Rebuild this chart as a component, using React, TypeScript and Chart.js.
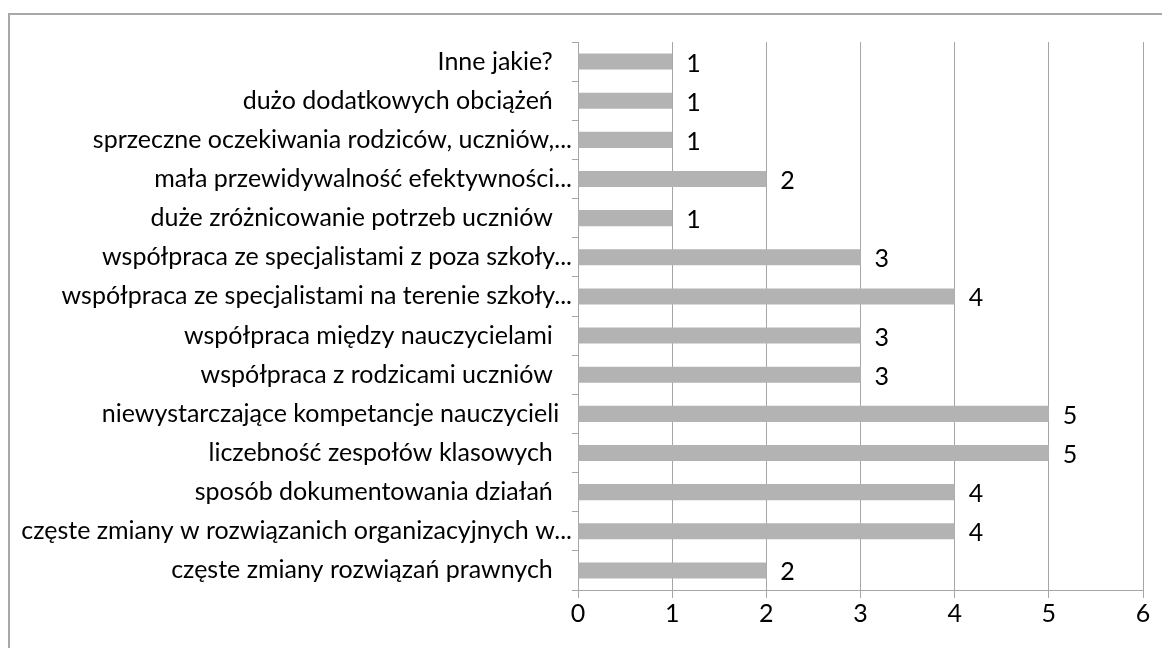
import React, { useEffect, useRef } from "react";
import { Chart, registerables } from "chart.js";

Chart.register(...registerables);

const categories: string[] = [
  "Inne jakie?   ",
  "dużo dodatkowych obciążeń   ",
  "sprzeczne oczekiwania rodziców, uczniów,...",
  "mała przewidywalność efektywności...",
  "duże zróżnicowanie potrzeb uczniów   ",
  "współpraca ze specjalistami z poza szkoły...",
  "współpraca ze specjalistami na terenie szkoły...",
  "współpraca między nauczycielami   ",
  "współpraca z rodzicami uczniów   ",
  "niewystarczające kompetancje nauczycieli  ",
  "liczebność zespołów klasowych   ",
  "sposób dokumentowania działań   ",
  "częste zmiany w rozwiązanich organizacyjnych w...",
  "częste zmiany rozwiązań prawnych   ",
];

const values: number[] = [1, 1, 1, 2, 1, 3, 4, 3, 3, 5, 5, 4, 4, 2];

const xMin = 0;
const xMax = 6;
const xStep = 1;

const FONT = "Lato";
const FONT_SIZE = 25;
const GRID = "#a6a6a6";

const dataLabels = {
  id: "dataLabels",
  afterDatasetsDraw(chart: any) {
    const ctx = chart.ctx;
    const meta = chart.getDatasetMeta(0);
    ctx.save();
    ctx.font = `${FONT_SIZE}px ${FONT}`;
    ctx.fillStyle = "#000";
    ctx.textAlign = "left";
    ctx.textBaseline = "middle";
    meta.data.forEach((el: any, i: number) => {
      ctx.fillText(String(values[i]), el.x + 14, el.y + 2);
    });
    ctx.restore();
  },
};

export default function App() {
  const ref = useRef<HTMLCanvasElement | null>(null);
  useEffect(() => {
    if (!ref.current) return;
    const chart = new Chart(ref.current, {
      type: "bar",
      data: {
        labels: categories,
        datasets: [
          {
            data: values,
            backgroundColor: "#b3b3b3",
            borderWidth: 0,
            categoryPercentage: 1,
            barPercentage: 0.41,
          },
        ],
      },
      options: {
        indexAxis: "y",
        animation: false,
        responsive: false,
        maintainAspectRatio: false,
        layout: { padding: { left: 0, right: 19, top: 27, bottom: 0 } },
        plugins: {
          legend: { display: false },
          tooltip: { enabled: false },
          title: { display: false },
        },
        scales: {
          x: {
            min: xMin,
            max: xMax,
            ticks: {
              stepSize: xStep,
              color: "#000",
              font: { family: FONT, size: FONT_SIZE },
              padding: 1,
              maxRotation: 0,
            },
            grid: {
              color: GRID,
              lineWidth: 1,
              tickLength: 8,
              drawTicks: true,
            },
            border: { display: true, color: GRID, width: 1 },
            afterFit(scale: any) {
              scale.height = 58;
            },
          },
          y: {
            ticks: {
              autoSkip: false,
              color: "#000",
              font: { family: FONT, size: FONT_SIZE },
              padding: 0,
            },
            grid: {
              offset: true,
              drawOnChartArea: false,
              drawTicks: true,
              tickLength: 6,
              color: GRID,
            },
            border: { display: true, color: GRID, width: 1 },
            afterFit(scale: any) {
              scale.width = 568;
            },
          },
        },
      },
      plugins: [dataLabels],
    });
    return () => chart.destroy();
  }, []);

  return (
    <div
      style={{
        marginTop: 5,
        width: 1152,
        height: 633,
        borderTop: "2px solid #a8a8a8",
        borderLeft: "2px solid #a8a8a8",
        overflow: "hidden",
      }}
    >
      <canvas ref={ref} width={1152} height={633} style={{ display: "block" }} />
    </div>
  );
}
